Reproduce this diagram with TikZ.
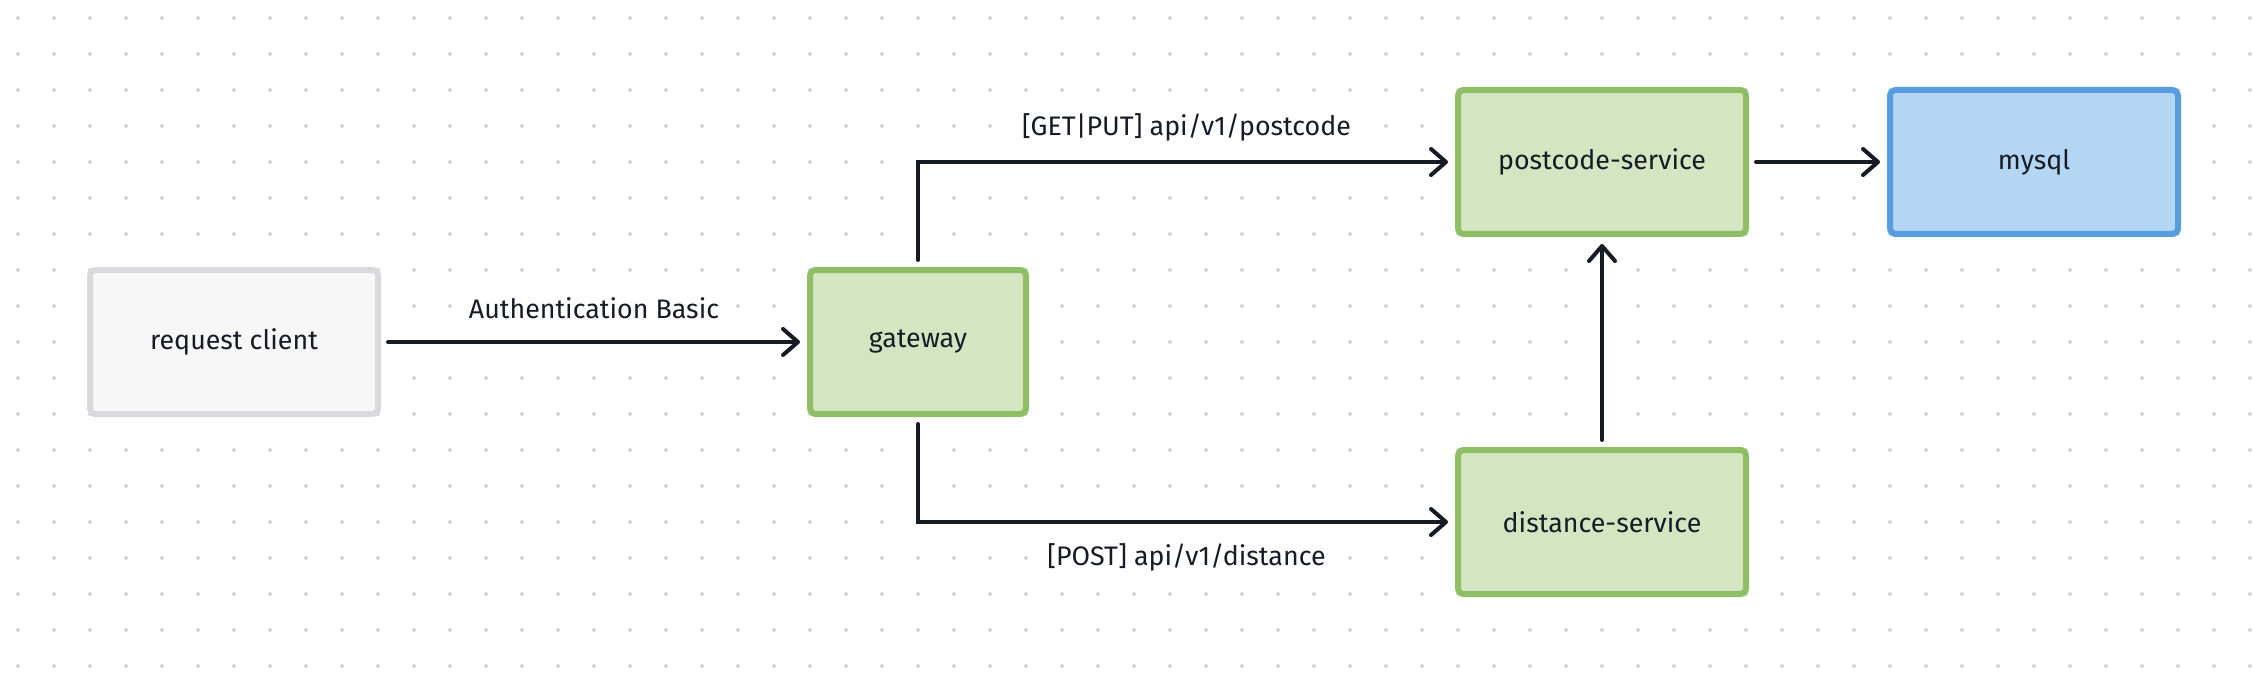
\documentclass[tikz,border=0pt]{standalone}
\usepackage{fontspec}
\setmainfont{Fira Sans}
\usetikzlibrary{arrows.meta}
\definecolor{dotc}{HTML}{D6D6DA}
\definecolor{ink}{HTML}{161B26}
\definecolor{gfill}{HTML}{D3E5C1}
\definecolor{gline}{HTML}{8EBF64}
\definecolor{bfill}{HTML}{B4D6F2}
\definecolor{bline}{HTML}{559DDF}
\definecolor{cfill}{HTML}{F7F7F7}
\definecolor{cline}{HTML}{DADADE}
\tikzset{
  box/.style={rectangle, rounded corners=3pt, line width=3pt, minimum width=144pt,
    minimum height=72pt, font=\fontsize{13.4}{15}\selectfont, text=ink},
  greenbox/.style={box, fill=gfill, draw=gline},
  bluebox/.style={box, fill=bfill, draw=bline},
  greybox/.style={box, fill=cfill, draw=cline},
  conn/.style={draw=ink, line width=2pt, line cap=round,
    -{Straight Barb[length=7.5pt,width=13pt,line cap=round,line join=round]},
    shorten >=3.5pt, shorten <=3.5pt},
  lbl/.style={fill=white, inner sep=1pt, font=\fontsize{13.4}{15}\selectfont, text=ink}
}
\begin{document}
\begin{tikzpicture}[x=0.5pt,y=-0.5pt]
\fill[white] (0,0) rectangle (2268,684);
\useasboundingbox (0,0) rectangle (2268,684);
\foreach \i in {0,...,62}{
  \foreach \j in {0,...,18}{
    \fill[dotc] ({18+36*\i},{18+36*\j}) circle (1pt);
  }
}
\node[greybox]  (rc) at (234,342) {request client};
\node[greenbox, minimum width=108pt] (gw) at (918,342) {gateway};
\node[greenbox] (pc) at (1602,162) {postcode-service};
\node[greenbox] (ds) at (1602,522) {distance-service};
\node[bluebox]  (db) at (2034,162) {mysql};

\draw[conn] (rc.east) -- node[lbl, yshift=17pt] {Authentication Basic} (gw.west);
\draw[conn] (gw.north) |- node[pos=0.75, lbl, yshift=17.5pt] {[GET|PUT] api/v1/postcode} (pc.west);
\draw[conn] (gw.south) |- node[pos=0.75, lbl, yshift=-17.5pt] {[POST] api/v1/distance} (ds.west);
\draw[conn] (ds.north) -- (pc.south);
\draw[conn] (pc.east) -- (db.west);
\end{tikzpicture}
\end{document}
